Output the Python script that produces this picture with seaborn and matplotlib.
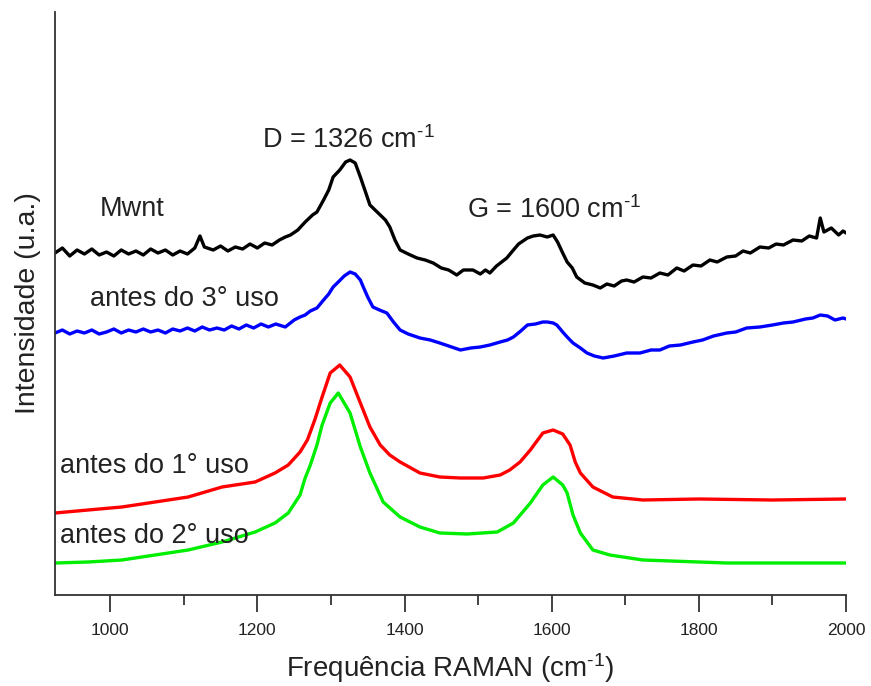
import matplotlib
matplotlib.use("Agg")
import matplotlib.pyplot as plt
import seaborn as sns
import pandas as pd
from matplotlib.ticker import MultipleLocator

# ---------------- data (intensity in arbitrary units) -------------
mwnt_x = [925, 935, 945, 955, 965, 975, 985, 995, 1005, 1015, 1025, 1035, 1045, 1055, 1065,
          1075, 1085, 1095, 1105, 1115, 1122, 1128, 1140, 1150, 1160, 1170, 1180, 1190, 1200,
          1210, 1220, 1230, 1238, 1245, 1255, 1265, 1275, 1281, 1290, 1297, 1303, 1312, 1320,
          1326, 1333, 1340, 1347, 1353, 1360, 1367, 1374, 1380, 1387, 1394, 1405, 1417, 1428,
          1439, 1450, 1460, 1471, 1480, 1493, 1503, 1510, 1516, 1525, 1532, 1539, 1548, 1555,
          1567, 1575, 1584, 1594, 1602, 1608, 1615, 1621, 1628, 1634, 1645, 1656, 1666, 1675,
          1685, 1695, 1702, 1712, 1724, 1735, 1747, 1758, 1770, 1780, 1792, 1803, 1815, 1825,
          1838, 1850, 1860, 1870, 1883, 1895, 1905, 1915, 1928, 1940, 1950, 1960, 1965, 1970,
          1980, 1990, 1996, 2000]
mwnt_px = [253, 248, 256, 250, 254, 249, 255, 252, 256, 250, 254, 251, 255, 249, 253,
           250, 255, 251, 254, 248, 236, 247, 250, 246, 251, 247, 249, 244, 248,
           243, 245, 240, 237, 235, 230, 222, 215, 212, 200, 190, 177, 170, 162,
           160, 163, 177, 192, 205, 210, 215, 220, 227, 240, 250, 254, 258, 260,
           263, 268, 270, 275, 270, 270, 274, 270, 273, 266, 262, 258, 250, 244,
           238, 236, 235, 237, 235, 242, 253, 262, 268, 277, 283, 285, 288, 284,
           286, 281, 280, 282, 277, 278, 273, 275, 268, 271, 265, 266, 260, 262,
           257, 256, 251, 253, 247, 248, 244, 245, 240, 241, 236, 238, 218, 232,
           228, 235, 231, 233]

uso3_x = [925, 935, 945, 955, 965, 975, 985, 995, 1005, 1015, 1025, 1035, 1045, 1055, 1065,
          1075, 1085, 1095, 1105, 1115, 1125, 1135, 1145, 1155, 1165, 1175, 1185, 1195, 1205,
          1215, 1225, 1238, 1250, 1258, 1265, 1272, 1281, 1290, 1297, 1303, 1310, 1318, 1326,
          1333, 1340, 1344, 1350, 1357, 1366, 1376, 1385, 1394, 1405, 1421, 1435, 1448, 1460,
          1476, 1490, 1503, 1516, 1530, 1540, 1548, 1558, 1567, 1578, 1588, 1594, 1602, 1607,
          1615, 1621, 1629, 1639, 1648, 1658, 1670, 1685, 1702, 1720, 1735, 1747, 1760, 1775,
          1792, 1805, 1820, 1838, 1850, 1865, 1883, 1900, 1915, 1928, 1945, 1955, 1965, 1975,
          1985, 1996, 2000]
uso3_px = [333, 330, 334, 331, 333, 330, 334, 332, 329, 333, 330, 332, 329, 332, 330,
           333, 329, 331, 328, 331, 327, 330, 328, 330, 326, 329, 325, 328, 324,
           327, 324, 327, 320, 317, 315, 311, 308, 300, 294, 287, 282, 276, 272,
           274, 280, 287, 297, 307, 310, 313, 322, 330, 334, 338, 340, 343, 346,
           350, 348, 347, 345, 342, 340, 337, 331, 325, 324, 322, 322, 323, 325,
           332, 337, 343, 348, 353, 356, 358, 356, 353, 353, 350, 350, 346, 345,
           342, 340, 336, 333, 332, 328, 327, 325, 323, 322, 319, 318, 315, 316,
           320, 318, 319]

uso1_x = [925, 970, 1016, 1061, 1106, 1152, 1197, 1224, 1242, 1258, 1268, 1278, 1288, 1299,
          1312, 1326, 1340, 1353, 1367, 1380, 1394, 1421, 1448, 1476, 1507, 1530, 1543, 1557,
          1571, 1588, 1602, 1615, 1625, 1632, 1639, 1656, 1683, 1724, 1800, 1900, 2000]
uso1_px = [513, 510, 507, 502, 497, 487, 482, 473, 465, 452, 440, 420, 397, 373,
           365, 377, 403, 427, 445, 455, 462, 473, 477, 478, 478, 475, 470, 462,
           450, 433, 430, 434, 445, 462, 473, 487, 497, 500, 499, 500, 499]

uso2_x = [925, 970, 1016, 1061, 1106, 1152, 1197, 1224, 1242, 1258, 1265, 1272, 1281, 1288,
          1299, 1310, 1326, 1340, 1353, 1371, 1394, 1421, 1448, 1485, 1526, 1548, 1571, 1588,
          1602, 1615, 1621, 1629, 1639, 1656, 1679, 1724, 1838, 2000]
uso2_px = [563, 562, 560, 555, 550, 542, 532, 523, 513, 495, 478, 465, 445, 425,
           403, 393, 413, 447, 473, 502, 517, 527, 533, 534, 532, 523, 503, 485,
           477, 485, 493, 515, 533, 550, 555, 560, 563, 563]

BASE = 595  # intensity = BASE - pixel row
series = [
    ("Mwnt", mwnt_x, mwnt_px, "#000000"),
    ("antes do 3° uso", uso3_x, uso3_px, "#0000ff"),
    ("antes do 1° uso", uso1_x, uso1_px, "#ff0000"),
    ("antes do 2° uso", uso2_x, uso2_px, "#00ee00"),
]

labels = ["Mwnt", "antes do 3° uso", "antes do 1° uso", "antes do 2° uso"]
label_x = [986, 973, 932, 932]
label_y = [379, 289, 122, 52]

SUP = r"$^{\text{-1}}$"
peak_labels = ["D = 1326 cm" + SUP, "G = 1600 cm" + SUP]
peak_x = [1206, 1485]
peak_y = [447, 377]

# ---------------- plot -------------
sns.set_style("ticks")
plt.rcParams["font.family"] = ["Liberation Sans", "DejaVu Sans"]
plt.rcParams["mathtext.fontset"] = "custom"
plt.rcParams["mathtext.rm"] = "Liberation Sans"
plt.rcParams["mathtext.it"] = "Liberation Sans:italic"
plt.rcParams["mathtext.bf"] = "Liberation Sans:bold"

fig = plt.figure(figsize=(8.71, 6.86), dpi=100)
ax = fig.add_axes([55 / 871, 91 / 686, 791 / 871, 583 / 686])

for name, xs, pxs, col in series:
    df = pd.DataFrame({"x": xs, "y": [BASE - p for p in pxs]})
    sns.lineplot(data=df, x="x", y="y", ax=ax, color=col, linewidth=2.4,
                 estimator=None, sort=False)

ax.set_xlim(925, 2000)
ax.set_ylim(0, 583)
ax.set_yticks([])
ax.xaxis.set_major_locator(MultipleLocator(200))
ax.xaxis.set_minor_locator(MultipleLocator(100))
ax.tick_params(axis="x", which="major", direction="out", length=12, width=1.3,
               color="#333333", labelsize=12.5, labelcolor="#222222", pad=8)
ax.tick_params(axis="x", which="minor", direction="out", length=7, width=1.3,
               color="#333333")
for side in ["top", "right"]:
    ax.spines[side].set_visible(False)
for side in ["left", "bottom"]:
    ax.spines[side].set_linewidth(1.3)
    ax.spines[side].set_color("#333333")

ax.set_xlabel("Frequência RAMAN (cm" + SUP + ")", fontsize=20, color="#222222",
              labelpad=10)
ax.set_ylabel("Intensidade (u.a.)", fontsize=20.5, color="#222222", labelpad=10)

for t, x, y in zip(labels, label_x, label_y):
    ax.text(x, y, t, fontsize=19.5, color="#222222", ha="left", va="baseline")
for t, x, y in zip(peak_labels, peak_x, peak_y):
    ax.text(x, y, t, fontsize=19.5, color="#222222", ha="left", va="baseline")

fig.savefig("out.png", dpi=100)
